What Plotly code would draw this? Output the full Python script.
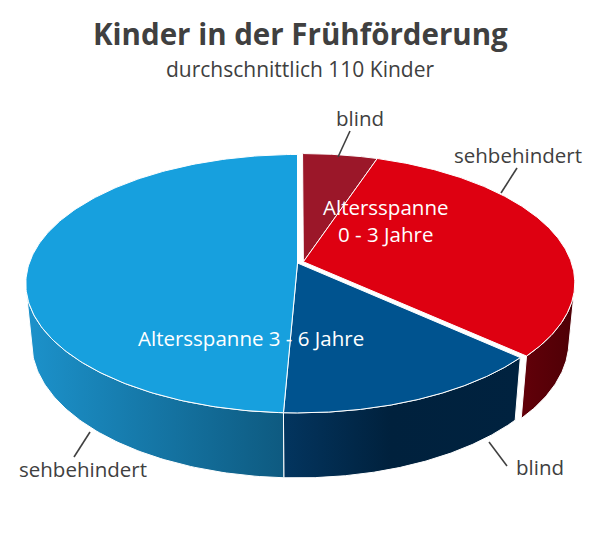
import numpy as np
import plotly.graph_objects as go

# ---------------- data ----------------
title_text = "Kinder in der Frühförderung"
subtitle_text = "durchschnittlich 110 Kinder"
age_groups = ["Altersspanne<br>0 - 3 Jahre", "Altersspanne 3 - 6 Jahre"]
categories = ["blind", "sehbehindert", "blind", "sehbehindert"]
group_of = [0, 0, 1, 1]
values = [5.2, 31.5, 14.0, 49.3]  # share in %

# ---------------- styles ----------------
top_colors = ["#9b1729", "#de0011", "#00538f", "#17a0de"]
side_scales = [
    [[0, "#6a000c"], [1, "#55000a"]],
    [[0, "#620009"], [1, "#4e0006"]],
    [[0, "#03355f"], [0.45, "#00213d"], [1, "#00223f"]],
    [[0, "#1c92cb"], [1, "#0e5a80"]],
]
TXT = "#404040"
FONT = "Open Sans"

# ---------------- projection (3D pie) ----------------
alpha = np.radians(28)
persp = 0.16
L = np.cos(alpha) / persp
D = L * np.cos(alpha)
H = L * np.sin(alpha)
F = 1480.0
CX, CY = 297.5, 263.0
T = 0.25
EXPLODE = 0.024


def proj(X, Y, Z):
    dep = (-(Y - H) * H + (Z + D) * D) / L
    up = ((Y - H) * D + (Z + D) * H) / L
    return CX + F * X / dep, CY - F * up / dep


vals = np.array(values, dtype=float)
bounds = np.concatenate([[0], np.cumsum(vals)]) / vals.sum() * 2 * np.pi

# explosion offset for group 0
g0 = [i for i, g in enumerate(group_of) if g == 0]
m0 = (bounds[g0[0]] + bounds[g0[-1] + 1]) / 2
offsets = []
for i in range(len(values)):
    if group_of[i] == 0:
        offsets.append((EXPLODE * np.sin(m0), EXPLODE * np.cos(m0)))
    else:
        offsets.append((0.0, 0.0))

fig = go.Figure()
side_traces = []
top_traces = []
for i in range(len(values)):
    t0, t1 = bounds[i], bounds[i + 1]
    ox, oz = offsets[i]
    th = np.linspace(t0, t1, 200)
    X = ox + np.sin(th)
    Z = oz + np.cos(th)
    # top face
    xs, ys = proj(np.concatenate([[ox], X, [ox]]), np.zeros(len(th) + 2),
                  np.concatenate([[oz], Z, [oz]]))
    top_traces.append(go.Scatter(x=xs, y=ys, mode="lines", fill="toself",
                                 fillcolor=top_colors[i],
                                 line=dict(color="white", width=1),
                                 hoverinfo="skip", showlegend=False))
    # side face (visible part of outer rim)
    vis = (-X) * np.sin(th) + (-D - Z) * np.cos(th) > 0
    if vis.sum() > 1:
        tv = th[vis]
        Xv = ox + np.sin(tv)
        Zv = oz + np.cos(tv)
        xa, ya = proj(Xv, np.zeros_like(tv), Zv)
        xb, yb = proj(Xv[::-1], -T * np.ones_like(tv), Zv[::-1])
        sx = np.concatenate([xa, xb, xa[:1]])
        sy = np.concatenate([ya, yb, ya[:1]])
        side_traces.append(go.Scatter(
            x=sx, y=sy, mode="lines", fill="toself",
            fillgradient=dict(type="horizontal", colorscale=side_scales[i],
                              start=float(sx.min()), stop=float(sx.max())),
            line=dict(color="white", width=1),
            hoverinfo="skip", showlegend=False))

for tr in side_traces + top_traces:
    fig.add_trace(tr)

ann = []
ann.append(dict(x=300, y=33, text="<b>" + title_text + "</b>",
                font=dict(family=FONT, size=29.5, color=TXT)))
ann.append(dict(x=300, y=69, text=subtitle_text,
                font=dict(family=FONT, size=21, color=TXT)))
# inner labels
ann.append(dict(x=385, y=220, text=age_groups[0],
                font=dict(family=FONT, size=20.5, color="white")))
ann.append(dict(x=251, y=338, text=age_groups[1],
                font=dict(family=FONT, size=20.5, color="white")))
# outer labels
outer = [(360, 118, 0), (518, 155, 1), (540, 467, 2), (83, 469, 3)]
for x, y, i in outer:
    ann.append(dict(x=x, y=y, text=categories[i],
                    font=dict(family=FONT, size=20.5, color=TXT)))
for a in ann:
    a.update(xref="x", yref="y", showarrow=False, xanchor="center", yanchor="middle")

leaders = [((350, 131), (338, 157)), ((517, 168), (501, 193)),
           ((489, 442), (507, 466)), ((90, 432), (74, 457))]
shapes = [dict(type="line", xref="x", yref="y", x0=a[0], y0=a[1], x1=b[0], y1=b[1],
               line=dict(color=TXT, width=1.6)) for a, b in leaders]

fig.update_layout(
    width=600, height=550, margin=dict(l=0, r=0, t=0, b=0),
    paper_bgcolor="white", plot_bgcolor="white",
    xaxis=dict(range=[0, 600], visible=False, fixedrange=True),
    yaxis=dict(range=[550, 0], visible=False, fixedrange=True),
    annotations=ann, shapes=shapes, showlegend=False,
)
fig.write_html("out.html")
